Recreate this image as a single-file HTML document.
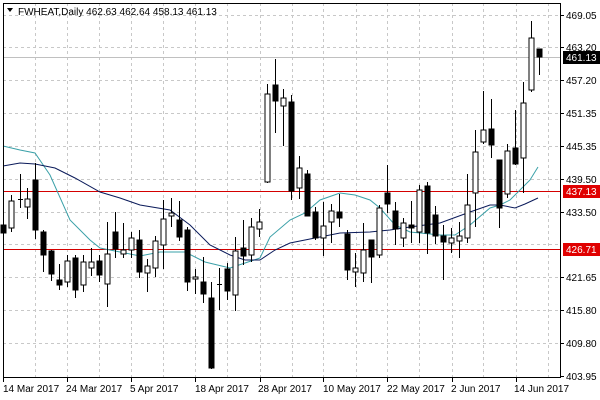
<!DOCTYPE html>
<html><head><meta charset="utf-8"><style>
html,body{margin:0;padding:0;background:#fff;}
svg{display:block;font-family:"Liberation Sans",sans-serif;font-size:10px;}
</style></head><body>
<svg width="600" height="400" viewBox="0 0 600 400" xmlns="http://www.w3.org/2000/svg">
<rect width="600" height="400" fill="#fff"/>
<g stroke="#c8c8c8" stroke-dasharray="3,3" stroke-width="1">
<line x1="3" y1="15.5" x2="560" y2="15.5"/><line x1="3" y1="47.5" x2="560" y2="47.5"/><line x1="3" y1="80.5" x2="560" y2="80.5"/><line x1="3" y1="113.5" x2="560" y2="113.5"/><line x1="3" y1="146.5" x2="560" y2="146.5"/><line x1="3" y1="179.5" x2="560" y2="179.5"/><line x1="3" y1="212.5" x2="560" y2="212.5"/><line x1="3" y1="244.5" x2="560" y2="244.5"/><line x1="3" y1="277.5" x2="560" y2="277.5"/><line x1="3" y1="310.5" x2="560" y2="310.5"/><line x1="3" y1="343.5" x2="560" y2="343.5"/>
<line x1="35.5" y1="3" x2="35.5" y2="377"/><line x1="67.5" y1="3" x2="67.5" y2="377"/><line x1="99.5" y1="3" x2="99.5" y2="377"/><line x1="131.5" y1="3" x2="131.5" y2="377"/><line x1="163.5" y1="3" x2="163.5" y2="377"/><line x1="195.5" y1="3" x2="195.5" y2="377"/><line x1="227.5" y1="3" x2="227.5" y2="377"/><line x1="260.5" y1="3" x2="260.5" y2="377"/><line x1="292.5" y1="3" x2="292.5" y2="377"/><line x1="323.5" y1="3" x2="323.5" y2="377"/><line x1="356.5" y1="3" x2="356.5" y2="377"/><line x1="387.5" y1="3" x2="387.5" y2="377"/><line x1="419.5" y1="3" x2="419.5" y2="377"/><line x1="452.5" y1="3" x2="452.5" y2="377"/><line x1="483.5" y1="3" x2="483.5" y2="377"/><line x1="516.5" y1="3" x2="516.5" y2="377"/><line x1="548.5" y1="3" x2="548.5" y2="377"/>
</g>
<line x1="3" y1="57.5" x2="560" y2="57.5" stroke="#c0c0c0"/>
<line x1="3" y1="191.5" x2="560" y2="191.5" stroke="#d40000"/>
<line x1="3" y1="249.5" x2="560" y2="249.5" stroke="#d40000"/>
<polyline fill="none" stroke="#3aa0a8" stroke-width="1" points="3,146 20,150 35,153 50,175 70,220 90,240 100,248 120,252 140,256 160,252 185,252 205,262 230,268 245,263 260,258 270,237 290,220 305,213 320,200 340,193 355,195 370,200 380,208 395,225 410,232 440,235 455,235 470,225 490,208 500,205 510,200 520,190 530,180 538,167"/>
<polyline fill="none" stroke="#0a1a5a" stroke-width="1" points="3,166 20,163 35,164 55,168 75,178 100,192 120,198 140,205 170,210 190,225 210,245 230,255 245,260 260,260 275,250 290,243 315,238 340,233 370,232 390,230 410,227 440,223 470,212 490,205 500,205 515,208 525,204 538,198"/>
<g stroke="#000" stroke-width="1">
<line x1="3.5" y1="210" x2="3.5" y2="242"/><rect x="1" y="225" width="5" height="8" fill="#000"/>
<line x1="11.5" y1="195" x2="11.5" y2="232"/><rect x="9" y="201" width="5" height="27" fill="#fff"/>
<line x1="20.5" y1="174" x2="20.5" y2="208"/><line x1="18" y1="199.5" x2="23" y2="199.5"/>
<line x1="27.5" y1="188" x2="27.5" y2="219"/><rect x="25" y="199" width="5" height="8" fill="#fff"/>
<line x1="35.5" y1="163" x2="35.5" y2="239"/><rect x="33" y="180" width="5" height="50" fill="#000"/>
<line x1="43.5" y1="230" x2="43.5" y2="272"/><rect x="41" y="232" width="5" height="23" fill="#000"/>
<line x1="51.5" y1="250" x2="51.5" y2="281"/><rect x="49" y="251" width="5" height="23" fill="#000"/>
<line x1="59.5" y1="264" x2="59.5" y2="290"/><rect x="57" y="280" width="5" height="5" fill="#000"/>
<line x1="67.5" y1="255" x2="67.5" y2="287"/><rect x="65" y="261" width="5" height="21" fill="#fff"/>
<line x1="75.5" y1="255" x2="75.5" y2="298"/><rect x="73" y="258" width="5" height="32" fill="#000"/>
<line x1="83.5" y1="255" x2="83.5" y2="292"/><rect x="81" y="262" width="5" height="23" fill="#fff"/>
<line x1="91.5" y1="248" x2="91.5" y2="276"/><rect x="89" y="262" width="5" height="6" fill="#fff"/>
<line x1="99.5" y1="255" x2="99.5" y2="282"/><rect x="97" y="261" width="5" height="14" fill="#000"/>
<line x1="107.5" y1="222" x2="107.5" y2="307"/><rect x="105" y="254" width="5" height="30" fill="#fff"/>
<line x1="115.5" y1="212" x2="115.5" y2="258"/><rect x="113" y="232" width="5" height="17" fill="#000"/>
<line x1="123.5" y1="223" x2="123.5" y2="258"/><rect x="121" y="250" width="5" height="4" fill="#fff"/>
<line x1="131.5" y1="232" x2="131.5" y2="258"/><rect x="129" y="238" width="5" height="12" fill="#fff"/>
<line x1="139.5" y1="230" x2="139.5" y2="278"/><rect x="137" y="240" width="5" height="32" fill="#000"/>
<line x1="147.5" y1="259" x2="147.5" y2="292"/><rect x="145" y="266" width="5" height="7" fill="#fff"/>
<line x1="155.5" y1="236" x2="155.5" y2="277"/><rect x="153" y="241" width="5" height="27" fill="#fff"/>
<line x1="163.5" y1="200" x2="163.5" y2="269"/><rect x="161" y="219" width="5" height="26" fill="#fff"/>
<line x1="171.5" y1="198" x2="171.5" y2="227"/><rect x="169" y="213" width="5" height="3" fill="#fff"/>
<line x1="179.5" y1="201" x2="179.5" y2="241"/><rect x="177" y="220" width="5" height="17" fill="#000"/>
<line x1="187.5" y1="227" x2="187.5" y2="291"/><rect x="185" y="230" width="5" height="52" fill="#000"/>
<line x1="195.5" y1="269" x2="195.5" y2="294"/><rect x="193" y="277" width="5" height="2" fill="#fff"/>
<line x1="203.5" y1="257" x2="203.5" y2="303"/><rect x="201" y="282" width="5" height="12" fill="#000"/>
<line x1="211.5" y1="282" x2="211.5" y2="369"/><rect x="209" y="298" width="5" height="70" fill="#000"/>
<line x1="219.5" y1="268" x2="219.5" y2="310"/><line x1="217" y1="284.5" x2="222" y2="284.5"/>
<line x1="227.5" y1="263" x2="227.5" y2="300"/><rect x="225" y="269" width="5" height="22" fill="#000"/>
<line x1="235.5" y1="237" x2="235.5" y2="311"/><rect x="233" y="251" width="5" height="44" fill="#fff"/>
<line x1="243.5" y1="220" x2="243.5" y2="265"/><rect x="241" y="248" width="5" height="8" fill="#000"/>
<line x1="251.5" y1="218" x2="251.5" y2="262"/><rect x="249" y="227" width="5" height="28" fill="#fff"/>
<line x1="259.5" y1="209" x2="259.5" y2="237"/><rect x="257" y="222" width="5" height="7" fill="#fff"/>
<line x1="267.5" y1="84" x2="267.5" y2="183"/><rect x="265" y="94" width="5" height="88" fill="#fff"/>
<line x1="275.5" y1="59" x2="275.5" y2="133"/><rect x="273" y="85" width="5" height="16" fill="#000"/>
<line x1="283.5" y1="89" x2="283.5" y2="146"/><rect x="281" y="98" width="5" height="8" fill="#fff"/>
<line x1="291.5" y1="95" x2="291.5" y2="200"/><rect x="289" y="102" width="5" height="89" fill="#000"/>
<line x1="299.5" y1="156" x2="299.5" y2="199"/><rect x="297" y="168" width="5" height="20" fill="#fff"/>
<line x1="307.5" y1="170" x2="307.5" y2="216"/><rect x="305" y="174" width="5" height="42" fill="#000"/>
<line x1="315.5" y1="207" x2="315.5" y2="240"/><rect x="313" y="212" width="5" height="26" fill="#000"/>
<line x1="323.5" y1="202" x2="323.5" y2="256"/><rect x="321" y="226" width="5" height="12" fill="#fff"/>
<line x1="331.5" y1="204" x2="331.5" y2="243"/><rect x="329" y="211" width="5" height="11" fill="#fff"/>
<line x1="339.5" y1="194" x2="339.5" y2="227"/><rect x="337" y="212" width="5" height="6" fill="#000"/>
<line x1="347.5" y1="230" x2="347.5" y2="280"/><rect x="345" y="234" width="5" height="36" fill="#000"/>
<line x1="355.5" y1="253" x2="355.5" y2="287"/><rect x="353" y="268" width="5" height="4" fill="#fff"/>
<line x1="363.5" y1="223" x2="363.5" y2="282"/><rect x="361" y="250" width="5" height="23" fill="#fff"/>
<line x1="371.5" y1="240" x2="371.5" y2="283"/><rect x="369" y="240" width="5" height="17" fill="#000"/>
<line x1="379.5" y1="205" x2="379.5" y2="258"/><rect x="377" y="208" width="5" height="47" fill="#fff"/>
<line x1="387.5" y1="165" x2="387.5" y2="213"/><rect x="385" y="193" width="5" height="11" fill="#000"/>
<line x1="395.5" y1="202" x2="395.5" y2="245"/><rect x="393" y="211" width="5" height="18" fill="#000"/>
<line x1="403.5" y1="218" x2="403.5" y2="247"/><rect x="401" y="223" width="5" height="15" fill="#fff"/>
<line x1="411.5" y1="201" x2="411.5" y2="243"/><rect x="409" y="225" width="5" height="3" fill="#000"/>
<line x1="419.5" y1="185" x2="419.5" y2="243"/><rect x="417" y="190" width="5" height="42" fill="#fff"/>
<line x1="427.5" y1="182" x2="427.5" y2="254"/><rect x="425" y="186" width="5" height="47" fill="#000"/>
<line x1="435.5" y1="206" x2="435.5" y2="244"/><rect x="433" y="215" width="5" height="21" fill="#000"/>
<line x1="443.5" y1="225" x2="443.5" y2="280"/><rect x="441" y="236" width="5" height="6" fill="#000"/>
<line x1="451.5" y1="228" x2="451.5" y2="253"/><rect x="449" y="238" width="5" height="5" fill="#fff"/>
<line x1="459.5" y1="222" x2="459.5" y2="258"/><rect x="457" y="236" width="5" height="5" fill="#fff"/>
<line x1="467.5" y1="174" x2="467.5" y2="243"/><rect x="465" y="205" width="5" height="33" fill="#fff"/>
<line x1="475.5" y1="130" x2="475.5" y2="227"/><rect x="473" y="152" width="5" height="41" fill="#fff"/>
<line x1="483.5" y1="91" x2="483.5" y2="144"/><rect x="481" y="130" width="5" height="12" fill="#fff"/>
<line x1="491.5" y1="99" x2="491.5" y2="158"/><rect x="489" y="129" width="5" height="16" fill="#000"/>
<line x1="499.5" y1="160" x2="499.5" y2="228"/><rect x="497" y="160" width="5" height="48" fill="#000"/>
<line x1="507.5" y1="144" x2="507.5" y2="198"/><rect x="505" y="151" width="5" height="43" fill="#fff"/>
<line x1="515.5" y1="110" x2="515.5" y2="165"/><rect x="513" y="148" width="5" height="16" fill="#000"/>
<line x1="523.5" y1="82" x2="523.5" y2="193"/><rect x="521" y="103" width="5" height="55" fill="#fff"/>
<line x1="531.5" y1="21" x2="531.5" y2="92"/><rect x="529" y="38" width="5" height="52" fill="#fff"/>
<line x1="539.5" y1="49" x2="539.5" y2="75"/><rect x="537" y="49" width="5" height="8" fill="#000"/>
</g>
<rect x="3.5" y="3.5" width="557" height="374" fill="none" stroke="#000"/>
<g stroke="#000">
<line x1="560" y1="15.5" x2="564" y2="15.5"/><line x1="560" y1="47.5" x2="564" y2="47.5"/><line x1="560" y1="80.5" x2="564" y2="80.5"/><line x1="560" y1="113.5" x2="564" y2="113.5"/><line x1="560" y1="146.5" x2="564" y2="146.5"/><line x1="560" y1="179.5" x2="564" y2="179.5"/><line x1="560" y1="212.5" x2="564" y2="212.5"/><line x1="560" y1="277.5" x2="564" y2="277.5"/><line x1="560" y1="310.5" x2="564" y2="310.5"/><line x1="560" y1="343.5" x2="564" y2="343.5"/><line x1="560" y1="376.5" x2="564" y2="376.5"/>
<line x1="3.5" y1="378" x2="3.5" y2="382"/><line x1="67.5" y1="378" x2="67.5" y2="382"/><line x1="131.5" y1="378" x2="131.5" y2="382"/><line x1="195.5" y1="378" x2="195.5" y2="382"/><line x1="260.5" y1="378" x2="260.5" y2="382"/><line x1="323.5" y1="378" x2="323.5" y2="382"/><line x1="387.5" y1="378" x2="387.5" y2="382"/><line x1="452.5" y1="378" x2="452.5" y2="382"/><line x1="516.5" y1="378" x2="516.5" y2="382"/>
</g>
<g fill="#000">
<text x="566" y="19">469.05</text><text x="566" y="51">463.20</text><text x="566" y="84">457.20</text><text x="566" y="117">451.35</text><text x="566" y="150">445.35</text><text x="566" y="183">439.50</text><text x="566" y="216">433.50</text><text x="566" y="281">421.65</text><text x="566" y="314">415.80</text><text x="566" y="347">409.80</text><text x="566" y="380">403.95</text>
</g>
<rect x="563" y="51" width="37" height="13" fill="#000"/><text x="566" y="61" fill="#fff">461.13</text>
<rect x="563" y="185" width="37" height="13" fill="#e00000"/><text x="566" y="195" fill="#fff">437.13</text>
<rect x="563" y="243" width="37" height="13" fill="#e00000"/><text x="566" y="253" fill="#fff">426.71</text>
<g fill="#000">
<text x="3" y="392">14 Mar 2017</text><text x="66" y="392">24 Mar 2017</text><text x="130" y="392">5 Apr 2017</text><text x="195" y="392">18 Apr 2017</text><text x="258" y="392">28 Apr 2017</text><text x="323" y="392">10 May 2017</text><text x="387" y="392">22 May 2017</text><text x="451" y="392">2 Jun 2017</text><text x="514" y="392">14 Jun 2017</text>
</g>
<polygon points="7,8 13,8 10,12" fill="#000"/>
<text x="18" y="15" fill="#000">FWHEAT,Daily  462.63 462.64 458.13 461.13</text>
</svg>
</body></html>
